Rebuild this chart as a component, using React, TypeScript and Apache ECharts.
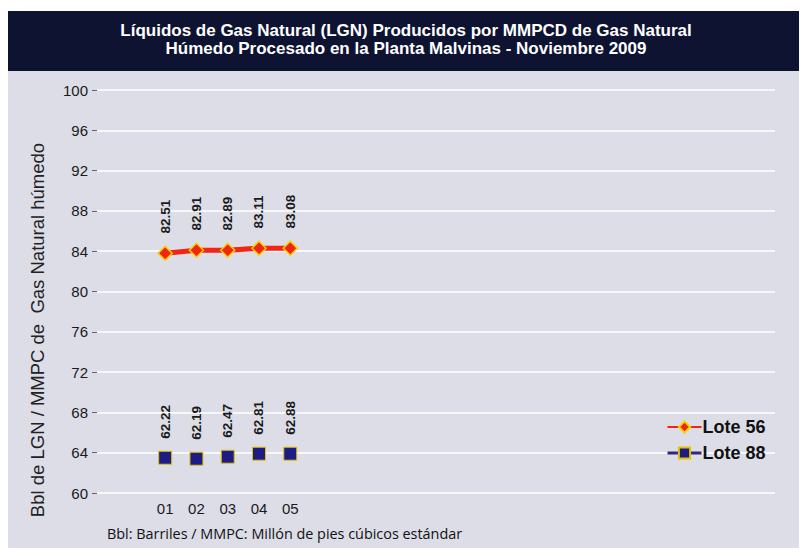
import React, { useEffect, useRef } from "react";
import * as echarts from "echarts";

const titleLines = [
  "Líquidos de Gas Natural (LGN) Producidos por MMPCD de Gas Natural",
  "Húmedo Procesado en la Planta Malvinas - Noviembre 2009",
];
const days = [1, 2, 3, 4, 5];
const dayLabels = ["01", "02", "03", "04", "05"];
// plotted positions as drawn in the picture
const lote56Plot = [83.8, 84.1, 84.1, 84.3, 84.3];
const lote88Plot = [63.5, 63.4, 63.6, 63.9, 63.9];
// printed data labels
const lote56Labels = ["82.51", "82.91", "82.89", "83.11", "83.08"];
const lote88Labels = ["62.22", "62.19", "62.47", "62.81", "62.88"];
const yTicks = { min: 60, max: 100, interval: 4 };
const yName = "Bbl de LGN / MMPC de  Gas Natural húmedo";
const footnote = "Bbl: Barriles / MMPC: Millón de pies cúbicos estándar";

export default function App() {
  const ref = useRef<HTMLDivElement>(null);
  useEffect(() => {
    if (!ref.current) return;
    const chart = echarts.init(ref.current, undefined, { renderer: "svg" });
    const mk = (vals: number[], labels: string[]) =>
      vals.map((v, i) => ({ value: [days[i], v], label: { formatter: labels[i] } }));
    const labelStyle = {
      show: true,
      position: "top" as const,
      rotate: 90,
      distance: 12,
      fontFamily: "Liberation Sans, Arial, sans-serif",
      fontWeight: "bold" as const,
      fontSize: 13.5,
      color: "#1a1a1a",
      align: "left" as const,
      verticalAlign: "middle" as const,
    };
    chart.setOption({
      animation: false,
      backgroundColor: "#dcdde7",
      graphic: [
        { type: "rect", left: 0, top: 0, shape: { width: 807, height: 11 }, style: { fill: "#ffffff" } },
        { type: "rect", left: 0, top: 0, shape: { width: 6, height: 556 }, style: { fill: "#ffffff" } },
        { type: "rect", left: 0, top: 552, shape: { width: 807, height: 4 }, style: { fill: "#ffffff" } },
        { type: "rect", left: 6, top: 11, shape: { width: 800, height: 60 }, style: { fill: "#0e1332" } },
        {
          type: "text",
          x: 406,
          y: 39.5,
          style: {
            text: titleLines.join("\n"),
            fill: "#ffffff",
            font: "bold 17px 'Liberation Sans', Arial, sans-serif",
            lineHeight: 18,
            align: "center",
            verticalAlign: "middle",
          },
        },
        {
          type: "text",
          x: 37,
          y: 330,
          rotation: Math.PI / 2,
          style: {
            text: yName,
            fill: "#222222",
            font: "18.5px 'Liberation Sans', Arial, sans-serif",
            align: "center",
            verticalAlign: "middle",
          },
        },
        {
          type: "text",
          x: 107,
          y: 533,
          style: {
            text: footnote,
            fill: "#111111",
            font: "14.4px 'Open Sans', 'Noto Sans', sans-serif",
            align: "left",
            verticalAlign: "middle",
          },
        },
      ],
      grid: { left: 97, right: 32, top: 90, bottom: 63 },
      xAxis: {
        type: "value",
        min: -1.18,
        max: 20.5,
        axisLine: { show: false, onZero: false },
        axisTick: { show: false },
        splitLine: { show: false },
        axisLabel: {
          customValues: days,
          formatter: (v: number) => dayLabels[days.indexOf(v)] ?? "",
          fontFamily: "Liberation Sans, Arial, sans-serif",
          fontSize: 15,
          color: "#1a1a1a",
          margin: 8,
        },
      },
      yAxis: {
        type: "value",
        min: yTicks.min,
        max: yTicks.max,
        interval: yTicks.interval,
        axisLine: { show: false, onZero: false },
        axisTick: { show: true, length: 5, lineStyle: { color: "#666666" } },
        splitLine: { show: true, lineStyle: { color: "#ffffff", width: 1.5 } },
        axisLabel: {
          fontFamily: "Liberation Sans, Arial, sans-serif",
          fontSize: 15,
          color: "#1a1a1a",
          margin: 9,
        },
      },
      legend: {
        orient: "vertical",
        left: 661,
        top: 413,
        itemWidth: 34,
        itemHeight: 14,
        itemGap: 8,
        textStyle: {
          fontFamily: "Liberation Sans, Arial, sans-serif",
          fontWeight: "bold",
          fontSize: 18,
          color: "#111111",
          padding: [0, 0, 0, -4],
        },
        data: [
          { name: "Lote 56" },
          { name: "Lote 88", lineStyle: { color: "#33287a", width: 3, opacity: 1 } },
        ],
      },
      series: [
        {
          name: "Lote 56",
          type: "line",
          data: mk(lote56Plot, lote56Labels),
          symbol: "diamond",
          symbolSize: 14,
          lineStyle: { color: "#f22414", width: 5 },
          itemStyle: { color: "#f02512", borderColor: "#f5d200", borderWidth: 1.5 },
          label: labelStyle,
        },
        {
          name: "Lote 88",
          type: "line",
          data: mk(lote88Plot, lote88Labels),
          symbol: "rect",
          symbolSize: 13,
          lineStyle: { color: "#33287a", width: 3, opacity: 0 },
          itemStyle: { color: "#1d1c86", borderColor: "#e3c400", borderWidth: 1 },
          label: labelStyle,
        },
      ],
    });
    return () => chart.dispose();
  }, []);
  return <div ref={ref} style={{ width: 807, height: 556, margin: -8 }} />;
}
